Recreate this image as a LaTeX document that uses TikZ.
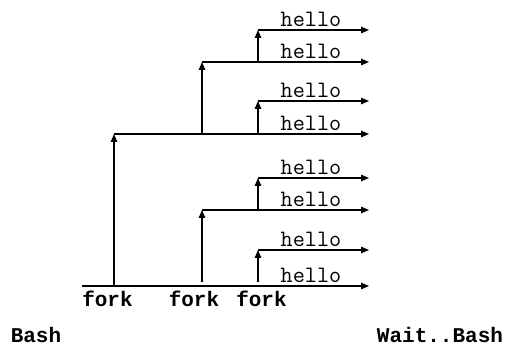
\documentclass[tikz,border=0pt]{standalone}
\usepackage{fontspec}
\newfontfamily\boldmono{Liberation Mono}
\usetikzlibrary{arrows.meta}

\tikzset{
  flow/.style={line width=1.3pt, -{Triangle[length=8pt,width=6.5pt]}},
  hellotext/.style={font=\fontsize{23.5}{26}\selectfont\ttfamily, inner sep=0pt, anchor=base},
  forktext/.style={font=\fontsize{21}{24}\selectfont\boldmono\bfseries, inner sep=0pt, anchor=base}
}

\begin{document}
\begin{tikzpicture}[x=1pt,y=-1pt]
\useasboundingbox (0,0) rectangle (512,347);

% the bash line and the first fork
\coordinate (b0) at (82,286);
\coordinate (b1) at (369,286);
\coordinate (p1) at (114,286);
\coordinate (p1t) at (114,134);
\coordinate (p1e) at (369,134);

% upper half
\coordinate (p2) at (202,134);
\coordinate (p2t) at (202,62);
\coordinate (p2e) at (369,62);
\coordinate (p3) at (258,62);
\coordinate (p3t) at (258,30);
\coordinate (p3e) at (369,30);
\coordinate (p4) at (258,134);
\coordinate (p4t) at (258,101);
\coordinate (p4e) at (369,101);

% lower half
\coordinate (q2) at (202,286);
\coordinate (q2t) at (202,210);
\coordinate (q2e) at (369,210);
\coordinate (q3) at (258,210);
\coordinate (q3t) at (258,178);
\coordinate (q3e) at (369,178);
\coordinate (q4) at (258,286);
\coordinate (q4t) at (258,250);
\coordinate (q4e) at (369,250);

\draw[flow] (b0) -- (b1);
\draw[flow] (p1) -- (p1t);
\draw[flow] (p1t) -- (p1e);

\draw[flow] (p2) -- (p2t);
\draw[flow] (p2t) -- (p2e);
\draw[flow] (p3) -- (p3t);
\draw[flow] (p3t) -- (p3e);
\draw[flow] (p4) -- (p4t);
\draw[flow] (p4t) -- (p4e);

\draw[flow, shorten <=4pt] (q2) -- (q2t);
\draw[flow] (q2t) -- (q2e);
\draw[flow] (q3) -- (q3t);
\draw[flow] (q3t) -- (q3e);
\draw[flow, shorten <=4pt] (q4) -- (q4t);
\draw[flow] (q4t) -- (q4e);

% one hello above each line
\foreach \y [count=\i] in {30,62,101,134,178,210,250,286}
  \node[hellotext] (hello\i) at (311,\y-3.5) {hello};

\node[forktext] (fork1) at (107.5,306.5) {fork};
\node[forktext] (fork2) at (194,306.5) {fork};
\node[forktext] (fork3) at (261.5,306.5) {fork};

\node[forktext] (bash) at (36,343) {Bash};
\node[forktext] (waitbash) at (440,343) {Wait..Bash};
\end{tikzpicture}
\end{document}
